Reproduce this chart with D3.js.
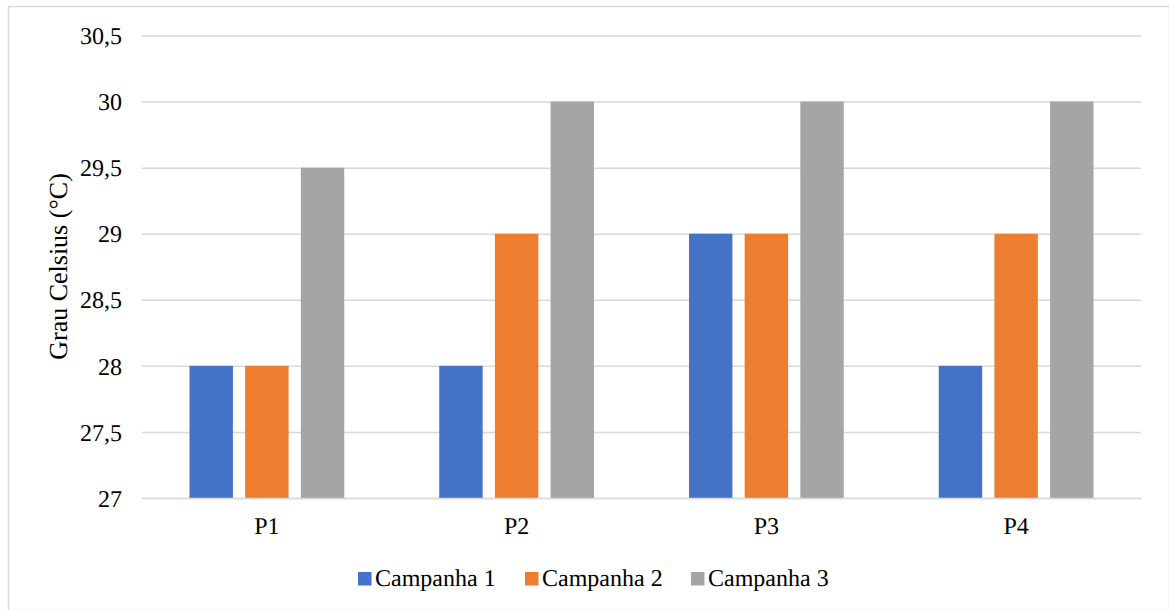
<!DOCTYPE html>
<html><head><meta charset="utf-8">
<script src="https://cdn.jsdelivr.net/npm/d3@7"></script>
<style>body{margin:0;background:#fff}svg{display:block}</style>
</head><body>
<script>
const categories = ["P1","P2","P3","P4"];
const seriesNames = ["Campanha 1","Campanha 2","Campanha 3"];
const campanha1 = [28, 28, 29, 28];
const campanha2 = [28, 29, 29, 29];
const campanha3 = [29.5, 30, 30, 30];
const yTicks = [27, 27.5, 28, 28.5, 29, 29.5, 30, 30.5];
const colors = ["#4472C4","#ED7D31","#A5A5A5"];
const values = [campanha1, campanha2, campanha3];

(function(){
const W = 1169, H = 610;
const svg = d3.select("body").append("svg").attr("width", W).attr("height", H)
  .attr("text-rendering","geometricPrecision");
const font = "Liberation Serif";

svg.append("rect").attr("x",8.5).attr("y",6.5).attr("width",W-8).attr("height",H-6)
  .attr("fill","#fff").attr("stroke","#d9d9d9").attr("stroke-width",1.5);

const mLeft = 142, mRight = 1141, mTop = 35.5, mBottom = 498;
const y = d3.scaleLinear().domain([27, 30.5]).range([mBottom, mTop]);
const x0 = d3.scaleBand().domain(categories).range([mLeft, mRight]).paddingInner(0).paddingOuter(0);
const x1 = d3.scaleBand().domain(seriesNames).range([47.5, x0.bandwidth()-47.5]).paddingInner(0.22).paddingOuter(0);

const fmt = v => String(v).replace(".", ",");
const yAxis = svg.append("g").attr("transform",`translate(${mLeft},0)`)
  .call(d3.axisLeft(y).tickValues(yTicks).tickSize(-(mRight-mLeft)).tickFormat(fmt))
  .attr("font-family", font).attr("font-size", 24);
yAxis.select(".domain").remove();
yAxis.selectAll(".tick line").attr("stroke","#d9d9d9").attr("stroke-width",1.5);
yAxis.selectAll(".tick text").attr("x",-20).attr("dy","0.34em").attr("font-family",font).attr("font-size",24).attr("fill","#000");

const g = svg.append("g");
categories.forEach((c, i) => {
  seriesNames.forEach((s, j) => {
    g.append("rect")
      .attr("x", x0(c) + x1(s))
      .attr("y", y(values[j][i]))
      .attr("width", x1.bandwidth())
      .attr("height", y(27) - y(values[j][i]))
      .attr("fill", colors[j]);
  });
});

const xAxis = svg.append("g").attr("transform",`translate(0,${mBottom})`)
  .call(d3.axisBottom(x0).tickSize(0).tickPadding(19))
  .attr("font-family", font).attr("font-size", 24);
xAxis.select(".domain").attr("stroke","#d9d9d9").attr("stroke-width",1.5);
xAxis.selectAll(".tick text").attr("font-family",font).attr("font-size",24).attr("fill","#000");

svg.append("text").attr("transform","translate(67,266.5) rotate(-90)")
  .attr("text-anchor","middle").attr("font-family",font).attr("font-size",26)
  .attr("fill","#000").text("Grau Celsius (°C)");

const legendX = [358, 525, 691];
const lg = svg.append("g");
seriesNames.forEach((s, j) => {
  lg.append("rect").attr("x", legendX[j]).attr("y", 572).attr("width", 13.5).attr("height", 13.5).attr("fill", colors[j]);
  lg.append("text").attr("x", legendX[j]+17).attr("y", 586)
    .attr("font-family",font).attr("font-size",24).attr("fill","#000").text(s);
});
})();
</script>
</body></html>
